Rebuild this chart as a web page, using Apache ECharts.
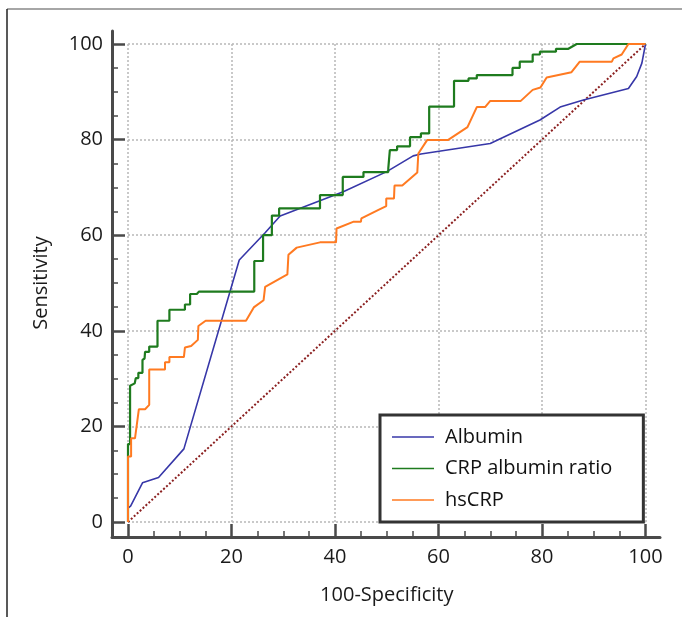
<!DOCTYPE html>
<html>
<head>
<meta charset="utf-8">
<script src="https://cdn.jsdelivr.net/npm/echarts@6/dist/echarts.min.js"></script>
<style>
html,body{margin:0;padding:0;background:#fff;}
#chart{width:682px;height:617px;}
</style>
</head>
<body>
<div id="chart"></div>
<script>
// ---- data ----
const seriesNames = ['Albumin', 'CRP albumin ratio', 'hsCRP'];
const xTicks = [0, 20, 40, 60, 80, 100];
const yTicks = [0, 20, 40, 60, 80, 100];

const albumin = [
  [0,0],[0,2.9],[0.5,3.3],[2.8,8.2],[5.9,9.3],[10.8,15.3],[21.5,54.8],[26.5,60.5],
  [29.4,64.0],[41.6,69.1],[50.0,73.3],[55.1,76.6],[56.6,77.0],[70.0,79.2],[79.6,84.1],
  [83.5,86.8],[88.0,88.3],[96.7,90.7],[98.3,93.2],[99.3,96.0],[100,100]
];

const crpAlbuminRatio = [
  [0,0],[0,16.3],[0.4,16.3],[0.4,28.5],[1.3,29.0],[1.5,29.0],[1.5,30.1],[2.0,30.1],
  [2.0,31.2],[2.8,31.2],[2.8,33.9],[3.2,34.2],[3.3,35.6],[4.1,35.6],[4.1,36.7],[5.7,36.7],
  [5.7,42.1],[8.0,42.1],[8.0,44.4],[11.0,44.4],[11.0,45.5],[12.0,45.5],[12.0,47.7],
  [13.3,47.7],[13.7,48.2],[24.4,48.2],[24.4,54.6],[26.1,54.6],[26.1,60.0],[27.8,60.0],
  [27.8,64.1],[29.2,64.1],[29.2,65.6],[37.1,65.6],[37.1,68.4],[41.5,68.4],[41.5,72.2],
  [45.5,72.2],[45.5,73.2],[50.3,73.2],[50.3,74.0],[50.6,74.0],[50.6,77.8],[52.0,77.8],
  [52.0,78.6],[54.5,78.6],[54.5,80.5],[56.6,80.5],[56.6,81.3],[58.2,81.3],[58.2,86.9],
  [63.0,86.9],[63.0,92.3],[65.8,92.3],[65.8,92.8],[67.4,92.8],[67.4,93.5],[74.3,93.5],
  [74.3,95.0],[75.7,95.0],[75.7,96.3],[78.2,96.3],[78.2,97.8],[79.6,97.8],[79.6,98.4],
  [82.7,98.4],[82.7,99.0],[85.1,99.0],[86.7,100],[100,100]
];

const hsCRP = [
  [0,0],[0,13.7],[0.6,13.7],[0.6,17.5],[1.35,17.5],[1.7,20.3],[2.1,23.6],[3.3,23.6],
  [4.1,24.5],[4.1,31.9],[7.15,31.9],[7.15,33.4],[8.0,33.4],[8.0,34.5],[10.8,34.5],
  [11.0,36.5],[12.2,36.8],[13.5,38.1],[13.6,41.0],[15.0,42.1],[22.8,42.1],[24.3,44.9],
  [26.2,46.4],[26.5,49.2],[30.8,51.8],[31.0,55.9],[32.6,57.4],[37.1,58.5],[40.2,58.5],
  [40.3,61.4],[43.5,62.8],[45.0,62.8],[45.1,63.5],[48.4,65.3],[49.9,66.1],[49.9,67.7],
  [51.4,67.7],[51.5,70.4],[53.0,70.4],[55.9,73.1],[56.1,77.1],[57.8,79.9],[61.8,79.9],
  [65.6,82.6],[67.4,86.8],[69.0,86.8],[70.0,88.1],[75.9,88.1],[78.2,90.4],[79.7,90.9],
  [80.9,93.0],[85.7,94.1],[87.3,96.3],[93.5,96.3],[93.8,97.0],[95.4,97.8],[96.7,100],[100,100]
];

const diagonal = [[0,0],[100,100]];

// ---- chart ----
const FONT = '"Open Sans", "Noto Sans", sans-serif';
const AX = '#4a4a4a';
const TXT = '#1a1a1a';
const chart = echarts.init(document.getElementById('chart'), null, {renderer: 'canvas'});

const hiddenAxisBase = {
  type: 'value', gridIndex: 0, min: -3.1, max: 102.9,
  axisLine: {show: true, onZero: false, lineStyle: {color: AX, width: 3}},
  axisTick: {show: false}, axisLabel: {show: false}, splitLine: {show: false}
};

const mainAxis = (isX) => ({
  type: 'value', gridIndex: 1, min: xTicks[0], max: xTicks[xTicks.length - 1], interval: 20,
  offset: isX ? 15 : 16,
  axisLine: {show: false, onZero: false},
  axisTick: {show: true, inside: true, length: 13, lineStyle: {color: AX, width: 2.5}},
  minorTick: {show: true, splitNumber: 4, length: 6, lineStyle: {color: AX, width: 1.5}},
  axisLabel: {show: true, margin: isX ? 10 : 9, fontSize: 20, fontFamily: FONT, color: TXT},
  splitLine: {show: true, lineStyle: {color: '#b8b8b8', width: 1.5, type: [2, 2]}},
  name: isX ? '100-Specificity' : 'Sensitivity',
  nameLocation: 'middle',
  nameGap: isX ? 48 : 61,
  nameTextStyle: {fontSize: 20, fontFamily: FONT, color: TXT}
});

const option = {
  animation: false,
  backgroundColor: '#fff',
  grid: [
    {left: 112, top: 31, width: 548, height: 506},
    {left: 128, top: 44, width: 517.5, height: 478}
  ],
  xAxis: [Object.assign({}, hiddenAxisBase), mainAxis(true)],
  yAxis: [Object.assign({}, hiddenAxisBase), mainAxis(false)],
  legend: {
    data: seriesNames,
    orient: 'vertical',
    left: 380, top: 415,
    icon: 'rect',
    itemWidth: 42, itemHeight: 1.5, itemGap: 11.5,
    padding: [12, 31, 12, 12],
    borderColor: '#333', borderWidth: 3, backgroundColor: '#fff',
    selectedMode: false,
    textStyle: {fontSize: 20, fontFamily: FONT, color: '#111', lineHeight: 20, padding: [0, 0, 0, 6]}
  },
  graphic: [
    {type: 'line', shape: {x1: 7, y1: 9, x2: 682, y2: 9}, style: {stroke: '#888', lineWidth: 1.5}, silent: true},
    {type: 'line', shape: {x1: 7, y1: 9, x2: 7, y2: 617}, style: {stroke: '#222', lineWidth: 1.5}, silent: true}
  ],
  series: [
    {type: 'line', name: 'reference', xAxisIndex: 1, yAxisIndex: 1, data: diagonal, symbol: 'none',
     lineStyle: {color: '#8b2020', width: 2, type: [2, 2]}, z: 1},
    {type: 'line', name: seriesNames[0], xAxisIndex: 1, yAxisIndex: 1, data: albumin, symbol: 'none',
     color: '#3737a8', lineStyle: {color: '#3737a8', width: 1.6}, z: 2},
    {type: 'line', name: seriesNames[1], xAxisIndex: 1, yAxisIndex: 1, data: crpAlbuminRatio, symbol: 'none',
     color: '#1e7b1e', lineStyle: {color: '#1e7b1e', width: 2.2}, z: 3},
    {type: 'line', name: seriesNames[2], xAxisIndex: 1, yAxisIndex: 1, data: hsCRP, symbol: 'none',
     color: '#ff7a21', lineStyle: {color: '#ff7a21', width: 2}, z: 4}
  ]
};
chart.setOption(option);
</script>
</body>
</html>
